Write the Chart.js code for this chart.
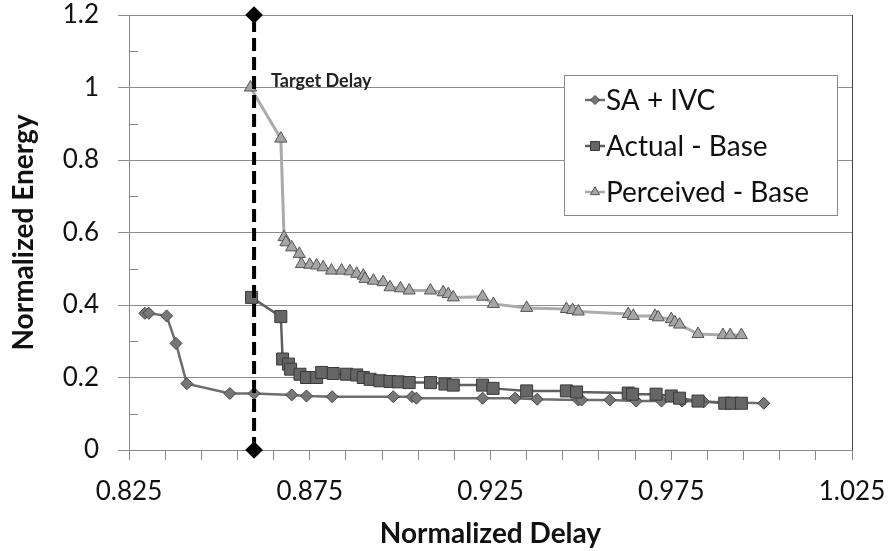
<!DOCTYPE html>
<html>
<head>
<meta charset="utf-8">
<script src="https://cdn.jsdelivr.net/npm/chart.js@4"></script>
<style>
  html, body { margin: 0; padding: 0; background: #fff; }
  #wrap { width: 894px; height: 551px; }
</style>
</head>
<body>
<div id="wrap"><canvas id="energyChart" width="894" height="551"></canvas></div>
<script>
// values
const saDelay = [0.8294, 0.8305, 0.8354, 0.8380, 0.8410, 0.8529, 0.8596, 0.8700, 0.8741, 0.8812, 0.8981,
                 0.9033, 0.9045, 0.9228, 0.9318, 0.9379, 0.9493, 0.9502, 0.9580, 0.9653, 0.9723, 0.9780, 0.9840, 1.0006];
const saEnergy = [0.377, 0.377, 0.370, 0.294, 0.183, 0.156, 0.156, 0.152, 0.149, 0.147, 0.147,
                  0.147, 0.143, 0.143, 0.143, 0.140, 0.138, 0.138, 0.138, 0.135, 0.135, 0.135, 0.133, 0.129];

const actualDelay = [0.8589, 0.8670, 0.8675, 0.8691, 0.8697, 0.8723, 0.8741, 0.8769, 0.8783, 0.8815, 0.8852,
                     0.8880, 0.8898, 0.8917, 0.8944, 0.8972, 0.8995, 0.9025, 0.9084, 0.9124, 0.9147, 0.9228,
                     0.9257, 0.9350, 0.9460, 0.9488, 0.9631, 0.9643, 0.9708, 0.9750, 0.9773, 0.9824, 0.9898, 0.9917, 0.9944];
const actualEnergy = [0.421, 0.368, 0.251, 0.237, 0.223, 0.209, 0.200, 0.200, 0.214, 0.211, 0.209,
                      0.207, 0.200, 0.195, 0.191, 0.189, 0.188, 0.186, 0.186, 0.182, 0.179, 0.179,
                      0.170, 0.163, 0.163, 0.160, 0.157, 0.154, 0.154, 0.149, 0.143, 0.135, 0.129, 0.129, 0.129];

const perceivedDelay = [0.8586, 0.8670, 0.8679, 0.8684, 0.8700, 0.8721, 0.8727, 0.8750, 0.8769, 0.8787, 0.8810,
                        0.8838, 0.8861, 0.8880, 0.8898, 0.8903, 0.8926, 0.8953, 0.8972, 0.9001, 0.9025, 0.9084,
                        0.9119, 0.9133, 0.9147, 0.9228, 0.9258, 0.9350, 0.9460, 0.9477, 0.9493, 0.9631, 0.9645,
                        0.9705, 0.9714, 0.9750, 0.9760, 0.9773, 0.9824, 0.9893, 0.9913, 0.9944];
const perceivedEnergy = [1.000, 0.859, 0.587, 0.573, 0.559, 0.541, 0.513, 0.511, 0.509, 0.504, 0.495,
                         0.495, 0.493, 0.486, 0.481, 0.472, 0.467, 0.463, 0.449, 0.446, 0.440, 0.440,
                         0.435, 0.430, 0.421, 0.423, 0.403, 0.392, 0.389, 0.386, 0.382, 0.375, 0.370,
                         0.370, 0.366, 0.361, 0.352, 0.346, 0.320, 0.317, 0.317, 0.317];

const targetDelay = 0.8596;
const targetEnergy = [0, 1.2];

const seriesNames = ['SA + IVC', 'Actual - Base', 'Perceived - Base'];

function toPoints(xs, ys) {
    return xs.map((x, i) => ({ x: x, y: ys[i] }));
}

// excel-like extras: plot border, minor y ticks, legend box, target label
const extras = {
    id: 'extras',
    beforeDraw(chart) {
        const ctx = chart.ctx;
        ctx.save();
        ctx.fillStyle = '#fff';
        ctx.fillRect(0, 0, chart.width, chart.height);
        ctx.restore();
    },
    afterDatasetsDraw(chart) {
        const ctx = chart.ctx;
        const area = chart.chartArea;
        const y = chart.scales.y;
        ctx.save();
        // right border
        ctx.strokeStyle = '#444';
        ctx.lineWidth = 1;
        ctx.beginPath();
        ctx.moveTo(area.right + 0.5, area.top);
        ctx.lineTo(area.right + 0.5, area.bottom);
        ctx.stroke();
        // minor ticks on the y axis
        ctx.strokeStyle = '#888';
        for (let v = 0.1; v < 1.2; v += 0.2) {
            const py = Math.round(y.getPixelForValue(v)) + 0.5;
            ctx.beginPath();
            ctx.moveTo(area.left, py);
            ctx.lineTo(area.left + 9, py);
            ctx.stroke();
        }
        // target label
        ctx.fillStyle = '#222';
        ctx.font = 'bold 18px Lato';
        ctx.textBaseline = 'middle';
        ctx.fillText('Target Delay', 271, 81);

        // legend box
        const box = { x: 564.5, y: 75.5, w: 273, h: 140 };
        ctx.fillStyle = '#fff';
        ctx.fillRect(box.x, box.y, box.w, box.h);
        ctx.strokeStyle = '#888';
        ctx.strokeRect(box.x, box.y, box.w, box.h);
        const rows = [100, 146, 192];
        const sets = [chart.data.datasets[3], chart.data.datasets[1], chart.data.datasets[2]];
        ctx.font = '28px Lato';
        sets.forEach((ds, i) => {
            const ry = rows[i];
            ctx.strokeStyle = ds.borderColor;
            ctx.lineWidth = 2.5;
            ctx.beginPath();
            ctx.moveTo(585, ry);
            ctx.lineTo(605, ry);
            ctx.stroke();
            ctx.fillStyle = ds.pointBackgroundColor;
            ctx.strokeStyle = ds.pointBorderColor;
            ctx.lineWidth = 1;
            Chart.helpers.drawPoint(ctx, {
                pointStyle: ds.pointStyle,
                radius: ds.pointRadius * 0.75,
                borderWidth: 1
            }, 595, ry);
            ctx.fillStyle = '#111';
            ctx.fillText(seriesNames[i], 606, ry + 1);
        });
        ctx.restore();
    }
};

const ctx = document.getElementById('energyChart').getContext('2d');
const energyChart = new Chart(ctx, {
    type: 'scatter',
    data: {
        datasets: [
            {
                label: 'Target',
                data: toPoints([targetDelay, targetDelay], targetEnergy),
                showLine: true,
                borderColor: '#000',
                borderWidth: 4,
                borderDash: [13, 6],
                pointStyle: 'rectRot',
                pointRadius: 6,
                pointBackgroundColor: '#000',
                pointBorderColor: '#000',
                clip: false,
                order: 0
            },
            {
                label: seriesNames[1],
                data: toPoints(actualDelay, actualEnergy),
                showLine: true,
                borderColor: '#606060',
                borderWidth: 2.5,
                pointStyle: 'rect',
                pointRadius: 8.5,
                pointBackgroundColor: '#666',
                pointBorderColor: '#3a3a3a',
                pointBorderWidth: 1,
                order: 1
            },
            {
                label: seriesNames[2],
                data: toPoints(perceivedDelay, perceivedEnergy),
                showLine: true,
                borderColor: '#ababab',
                borderWidth: 3,
                pointStyle: 'triangle',
                pointRadius: 7,
                pointBackgroundColor: '#a6a6a6',
                pointBorderColor: '#555',
                pointBorderWidth: 1,
                order: 2
            },
            {
                label: seriesNames[0],
                data: toPoints(saDelay, saEnergy),
                showLine: true,
                borderColor: '#6e6e6e',
                borderWidth: 2.5,
                pointStyle: 'rectRot',
                pointRadius: 6,
                pointBackgroundColor: '#777',
                pointBorderColor: '#444',
                pointBorderWidth: 1,
                order: 3
            }
        ]
    },
    options: {
        responsive: false,
        animation: false,
        layout: { padding: { top: 15, right: 42, left: 0, bottom: 0 } },
        plugins: {
            legend: { display: false },
            tooltip: { enabled: false }
        },
        scales: {
            x: {
                type: 'linear',
                min: 0.825,
                max: 1.025,
                afterFit: (scale) => {
                    scale.height = 101;
                    scale.paddingLeft = 0;
                    scale.paddingRight = 0;
                },
                ticks: {
                    stepSize: 0.01,
                    autoSkip: false,
                    maxRotation: 0,
                    padding: 16,
                    color: '#111',
                    font: { family: 'Lato', size: 26 },
                    callback: (v, i) => (i % 5 === 0 ? v.toFixed(3) : '')
                },
                grid: {
                    drawOnChartArea: false,
                    tickLength: 10,
                    tickColor: '#888'
                },
                border: { color: '#888' },
                title: {
                    display: true,
                    text: 'Normalized Delay',
                    color: '#111',
                    font: { family: 'Lato', size: 28, weight: 'bold' },
                    padding: { top: 0, bottom: 0 }
                }
            },
            y: {
                min: 0,
                max: 1.2,
                afterFit: (scale) => {
                    scale.width = 129;
                    scale.paddingTop = 0;
                    scale.paddingBottom = 0;
                },
                ticks: {
                    stepSize: 0.1,
                    autoSkip: false,
                    padding: 19,
                    color: '#111',
                    font: { family: 'Lato', size: 26 },
                    callback: (v, i) => (i % 2 === 0 ? String(Number(v.toFixed(1))) : '')
                },
                grid: {
                    color: (c) => (c.index % 2 === 0 ? '#8c8c8c' : 'rgba(0,0,0,0)'),
                    tickColor: (c) => (c.index % 2 === 0 ? '#8c8c8c' : 'rgba(0,0,0,0)'),
                    tickLength: 11
                },
                border: { color: '#888' },
                title: {
                    display: true,
                    text: 'Normalized Energy',
                    color: '#111',
                    font: { family: 'Lato', size: 28, weight: 'bold' },
                    padding: { top: 7, bottom: 0 }
                }
            }
        }
    },
    plugins: [extras]
});
</script>
</body>
</html>
